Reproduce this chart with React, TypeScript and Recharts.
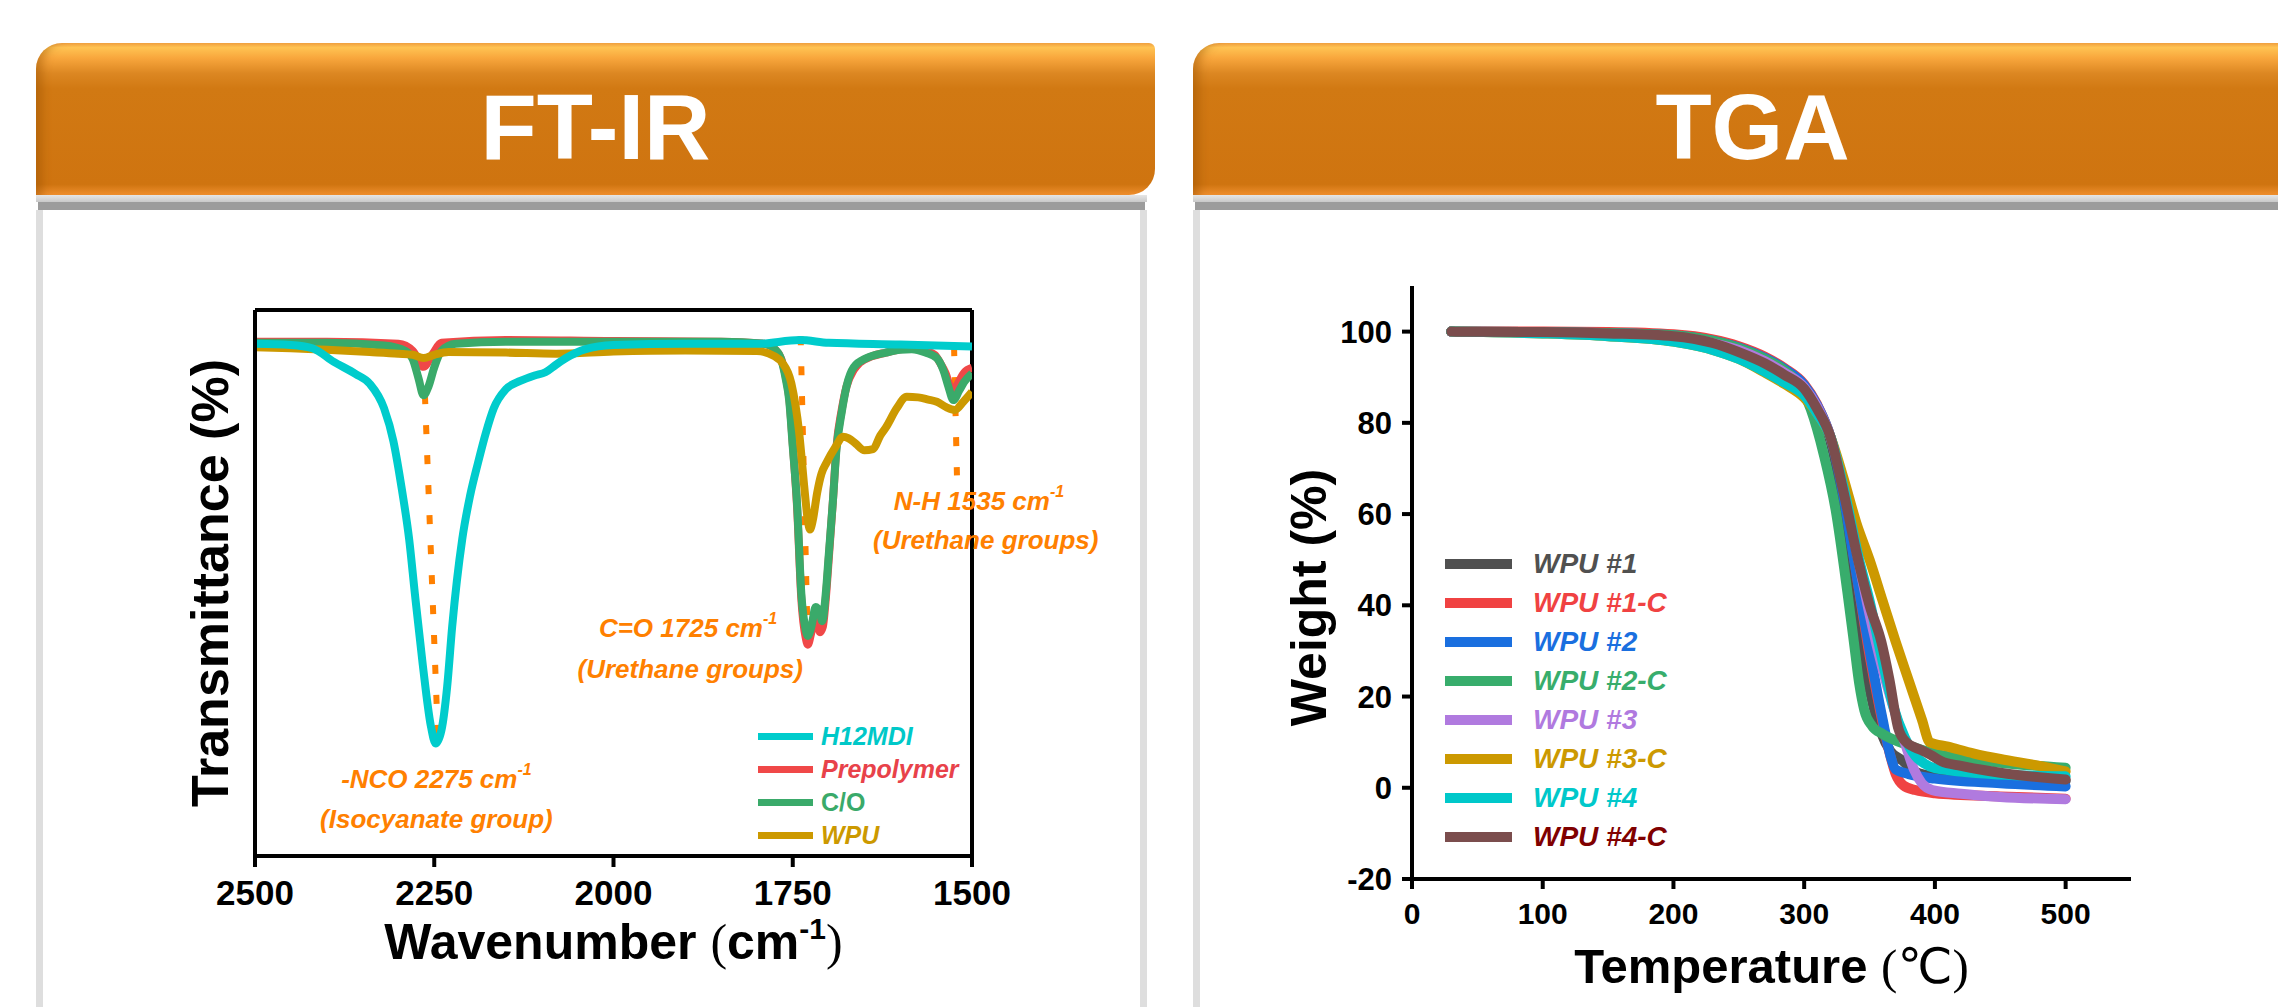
import React from 'react';
import { LineChart, Line, XAxis, YAxis, ReferenceLine, ReferenceDot, Legend } from 'recharts';

const SANS = '"Liberation Sans", Arial, sans-serif';
const SERIF = '"Liberation Serif", "Times New Roman", serif';

// ---------- FT-IR : [wavenumber (cm-1), transmittance (% of frame)] ----------
const irTicks = [2500, 2250, 2000, 1750, 1500];
const irNames = ['H12MDI', 'Prepolymer', 'C/O', 'WPU'];

const irH12mdi = [
  [2500, 93.8], [2450, 93.6], [2420, 93], [2390, 90.5], [2360, 88.3], [2340, 86.5],
  [2320, 82], [2307, 76], [2295, 67], [2285, 58], [2277, 48], [2266, 35], [2255, 24],
  [2248, 20.6], [2240, 23], [2232, 31], [2225, 42], [2211, 58], [2200, 66], [2189, 72],
  [2178, 77.5], [2167, 82], [2150, 85.5], [2130, 87], [2110, 88], [2095, 88.6],
  [2080, 90], [2065, 91.3], [2040, 92.8], [2000, 93.6], [1900, 93.8], [1800, 93.8],
  [1740, 94.5], [1700, 94], [1600, 93.7], [1500, 93.3],
];

const irPrepolymer = [
  [2500, 94.2], [2400, 94.2], [2300, 93.8], [2280, 92.5], [2265, 89.6], [2252, 92],
  [2240, 94], [2150, 94.5], [2000, 94.3], [1850, 94.2], [1790, 93.8], [1775, 92.8],
  [1766, 91], [1760, 88], [1755, 84], [1750, 75.5], [1744, 64], [1738, 47], [1732, 40],
  [1729, 38.7], [1724, 41], [1718, 44.5], [1712, 41], [1708, 42], [1704, 47], [1700, 54],
  [1694, 65], [1689, 75], [1682, 81.5], [1675, 86], [1665, 89], [1657, 90.3], [1640, 91.5],
  [1620, 92.2], [1600, 92.8], [1584, 93], [1565, 92.5], [1552, 91.8], [1544, 90.2],
  [1537, 88.5], [1527, 85], [1520, 86.5], [1511, 88.5], [1500, 89.4],
];

const irCO = [
  [2500, 94], [2400, 94], [2320, 93.5], [2290, 92.5], [2280, 91], [2272, 87.5],
  [2265, 84.4], [2258, 86], [2250, 89.5], [2240, 92.5], [2220, 93.8], [2150, 94.2],
  [2000, 94.2], [1850, 94.2], [1790, 93.8], [1775, 92.8], [1766, 90.9], [1760, 87.5],
  [1755, 83.5], [1750, 75], [1744, 64.5], [1738, 48], [1732, 41.5], [1729, 40.3],
  [1724, 42], [1718, 45.6], [1712, 44.5], [1709, 43], [1704, 48], [1700, 54.8],
  [1694, 65], [1689, 74.5], [1682, 81], [1675, 86], [1665, 89.5], [1647, 91.2],
  [1620, 92.2], [1600, 92.7], [1584, 92.8], [1565, 92.2], [1549, 91.2], [1540, 89],
  [1533, 86], [1526, 83.5], [1518, 85.2], [1511, 86.8], [1500, 88.4],
];

const irWpu = [
  [2500, 93.2], [2450, 93], [2400, 92.7], [2340, 92.3], [2300, 92], [2280, 91.8],
  [2265, 91.2], [2250, 91.8], [2230, 92.3], [2150, 92.2], [2080, 92], [2000, 92.4],
  [1900, 92.6], [1800, 92.5], [1775, 91.5], [1765, 90.4], [1752, 86.6], [1741, 77.5],
  [1734, 67.7], [1729, 61.5], [1726, 59.8], [1722, 61.5], [1716, 66.5], [1710, 70],
  [1703, 72], [1690, 75], [1680, 76.8], [1672, 76.5], [1662, 75.5], [1650, 74.3],
  [1638, 74.5], [1628, 77], [1620, 78.5], [1605, 82], [1591, 84.1], [1575, 84],
  [1561, 83.6], [1549, 83.2], [1536, 82.2], [1524, 81.7], [1512, 83.2], [1500, 85],
];

// dashed guide lines: [top wavenumber, top T, bottom wavenumber, bottom T]
const irGuides = [
  [2263, 84.4, 2245, 22],
  [1739, 95.2, 1729, 38.3],
  [1525, 93.2, 1521, 69.7],
];

// ---------- TGA : [temperature (C), weight (%)] ----------
const tgaXTicks = [0, 100, 200, 300, 400, 500];
const tgaYTicks = [-20, 0, 20, 40, 60, 80, 100];
const tgaNames = ['WPU #1', 'WPU #1-C', 'WPU #2', 'WPU #2-C', 'WPU #3', 'WPU #3-C', 'WPU #4', 'WPU #4-C'];

const tgaWpu1 = [
  [30, 100], [100, 99.9], [150, 99.6], [200, 99], [230, 97.8], [250, 96.3], [270, 94],
  [285, 91.5], [300, 88], [310, 83.5], [320, 76], [330, 62], [340, 42], [346, 28],
  [352, 19], [359, 12], [366, 8], [375, 6], [385, 3.5], [400, 2.5], [450, 1.9], [500, 1.5],
];
const tgaWpu1C = [
  [30, 100], [100, 100], [150, 99.9], [200, 99.4], [230, 98.3], [250, 96.8], [270, 94.5],
  [285, 92], [300, 88.5], [310, 84], [320, 77], [330, 65], [340, 47], [350, 29], [358, 17],
  [365, 8], [370, 3], [376, 0.5], [385, -0.5], [400, -1.2], [450, -1.9], [500, -2.4],
];
const tgaWpu2 = [
  [30, 100], [100, 99.9], [150, 99.7], [200, 99.2], [230, 98], [250, 96.5], [270, 94.2],
  [285, 91.8], [300, 88.3], [310, 83.8], [320, 77], [330, 64], [337, 52], [344, 40],
  [352, 27], [360, 15], [366, 7], [370, 4], [380, 3], [400, 2], [450, 1], [500, 0.3],
];
const tgaWpu2C = [
  [30, 100], [100, 99.9], [150, 99.7], [200, 99.2], [230, 98], [250, 96.4], [270, 94],
  [285, 91.5], [297, 88], [305, 83], [315, 73], [324, 61], [333, 43], [338, 32], [342, 23],
  [346, 17], [352, 13.5], [360, 11.8], [380, 9.3], [400, 7.5], [450, 5.5], [500, 4.4],
];
const tgaWpu3 = [
  [30, 100], [100, 99.8], [150, 99.5], [200, 98.8], [230, 97.5], [250, 96], [270, 93.5],
  [285, 91], [300, 87.8], [310, 83.5], [320, 77], [330, 66], [340, 52], [350, 38], [360, 26],
  [370, 16], [378, 9], [384, 4], [390, 1], [398, -0.5], [420, -1.3], [450, -2], [500, -2.5],
];
const tgaWpu3C = [
  [30, 100], [100, 99.6], [150, 99], [200, 97.8], [230, 96], [250, 94], [270, 91],
  [285, 88.5], [300, 85.5], [310, 82], [320, 77], [330, 68], [340, 58], [350, 50], [360, 41],
  [370, 32], [380, 23.5], [390, 15], [396, 10], [410, 9], [430, 7.5], [450, 6.3], [480, 4.8],
  [500, 3.6],
];
const tgaWpu4 = [
  [30, 100], [100, 99.6], [150, 99], [200, 97.8], [230, 96], [250, 94], [270, 91.2],
  [285, 88.8], [300, 86], [310, 82], [320, 77], [330, 66], [342, 50], [350, 41], [359, 29],
  [368, 18], [377, 11], [385, 7], [392, 5.3], [400, 4.3], [450, 2.9], [500, 2.5],
];
const tgaWpu4C = [
  [30, 100], [100, 99.9], [150, 99.6], [200, 99], [230, 97.5], [250, 95.5], [270, 93],
  [285, 90.5], [300, 87.5], [310, 83], [320, 77], [330, 65], [342, 49], [350, 40], [359, 32],
  [365, 24], [372, 13], [378, 10], [390, 8.2], [398, 7], [405, 5.8], [420, 4.8], [450, 3.3],
  [500, 1.8],
];

// ---------- styles ----------
const irColors = ['#00CCCC', '#F04848', '#3AAA6A', '#CC9900'];
const irTextColors = ['#00C8C8', '#E8424A', '#3AAA6A', '#CC9900'];
const irItalic = [true, true, false, true];
const irSeries = [irH12mdi, irPrepolymer, irCO, irWpu];
const irDrawOrder = [1, 2, 3, 0];

const tgaColors = ['#505050', '#F04242', '#1A6FDF', '#38AD6C', '#B07ADF', '#CC9900', '#00C8CA', '#7B4D4D'];
const tgaTextColors = ['#505050', '#F04242', '#1A6FDF', '#38AD6C', '#B07ADF', '#CC9900', '#00C8CA', '#800000'];
const tgaSeries = [tgaWpu1, tgaWpu1C, tgaWpu2, tgaWpu2C, tgaWpu3, tgaWpu3C, tgaWpu4, tgaWpu4C];

const ORANGE = '#FF8000';

const toPoints = (pairs: number[][]) => pairs.map(([x, y]) => ({ x, y }));

// annotation text: wavenumber, T, text, superscript, anchor
const irNotes: [number, number, string, string, 'middle' | 'start'][] = [
  [2247, 14.1, '-NCO 2275 cm', '-1', 'middle'],
  [2247, 6.8, '(Isocyanate group)', '', 'middle'],
  [1896, 41.8, 'C=O 1725 cm', '-1', 'middle'],
  [1893, 34.3, '(Urethane groups)', '', 'middle'],
  [1609, 65.1, 'N-H 1535 cm', '-1', 'start'],
  [1638, 57.9, '(Urethane groups)', '', 'start'],
];

const noteLabel = (text: string, sup: string, anchor: 'middle' | 'start') => (props: any) => {
  const vb = props.viewBox || {};
  const x = (vb.x || 0) + (vb.width || 0) / 2;
  const y = (vb.y || 0) + (vb.height || 0) / 2;
  return (
    <text x={x} y={y} textAnchor={anchor} dominantBaseline="central" fill={ORANGE}
      fontFamily={SANS} fontWeight={700} fontStyle="italic" fontSize={26}>
      {text}
      {sup ? <tspan dy={-10} fontSize={16}>{sup}</tspan> : null}
    </text>
  );
};

const irXLabel = (props: any) => {
  const vb = props.viewBox;
  const x = vb.x + vb.width / 2;
  const y = vb.y + 103;
  return (
    <text x={x} y={y} textAnchor="middle" fontFamily={SANS} fontWeight={700} fontSize={50} fill="#000">
      <tspan>Wavenumber </tspan>
      <tspan fontFamily={SERIF} fontWeight={400}>(</tspan>
      <tspan>cm</tspan>
      <tspan fontSize={30} dy={-20}>-1</tspan>
      <tspan dy={20} fontFamily={SERIF} fontWeight={400}>)</tspan>
    </text>
  );
};

const irYLabel = (props: any) => {
  const vb = props.viewBox;
  const cx = vb.x + 60;
  const cy = vb.y + vb.height / 2;
  return (
    <text x={cx} y={cy} transform={`rotate(-90 ${cx} ${cy})`} textAnchor="middle" dominantBaseline="central"
      fontFamily={SANS} fontWeight={700} fontSize={52} fill="#000">
      Transmittance (%)
    </text>
  );
};

const tgaXLabel = (props: any) => {
  const vb = props.viewBox;
  const x = vb.x + vb.width / 2;
  const y = vb.y + 104;
  return (
    <text x={x} y={y} textAnchor="middle" fontFamily={SANS} fontWeight={700} fontSize={49} fill="#000">
      <tspan>Temperature </tspan>
      <tspan fontFamily={SERIF} fontWeight={400}>(</tspan>
      <tspan fontFamily='"DejaVu Sans", sans-serif' fontWeight={400}>℃</tspan>
      <tspan fontFamily={SERIF} fontWeight={400}>)</tspan>
    </text>
  );
};

const tgaYLabel = (props: any) => {
  const vb = props.viewBox;
  const cx = vb.x + 119;
  const cy = vb.y + vb.height / 2 + 15;
  return (
    <text x={cx} y={cy} transform={`rotate(-90 ${cx} ${cy})`} textAnchor="middle" dominantBaseline="central"
      fontFamily={SANS} fontWeight={700} fontSize={50} fill="#000">
      Weight (%)
    </text>
  );
};

const IrLegend = () => (
  <div style={{ fontFamily: SANS, fontWeight: 700, fontSize: 25 }}>
    {irNames.map((n, i) => (
      <div key={n} style={{ display: 'flex', alignItems: 'center', height: 33 }}>
        <div style={{ width: 55, height: 7, background: irColors[i] }} />
        <span style={{ marginLeft: 8, color: irTextColors[i], fontStyle: irItalic[i] ? 'italic' : 'normal', lineHeight: 1 }}>{n}</span>
      </div>
    ))}
  </div>
);

const TgaLegend = () => (
  <div style={{ fontFamily: SANS, fontWeight: 700, fontSize: 28, fontStyle: 'italic' }}>
    {tgaNames.map((n, i) => (
      <div key={n} style={{ display: 'flex', alignItems: 'center', height: 39.1 }}>
        <div style={{ width: 67, height: 10, background: tgaColors[i] }} />
        <span style={{ marginLeft: 21, color: tgaTextColors[i], lineHeight: 1 }}>{n}</span>
      </div>
    ))}
  </div>
);

const headerBg =
  'linear-gradient(to bottom, #F0A040 0%, #FFC352 3%, #F8A63C 10%, #DC8722 20%, #D17913 30%, #CF7410 93%, #EF8F2E 100%)';

const Header = ({ left, width, title, radius }: { left: number; width: number; title: string; radius: string }) => (
  <div
    style={{
      position: 'absolute', left, top: 43, width, height: 152, borderRadius: radius, background: headerBg,
      boxShadow: 'inset 14px 0 10px -8px rgba(150,80,0,0.45)',
      display: 'flex', justifyContent: 'center', alignItems: 'center',
      color: '#fff', fontFamily: SANS, fontWeight: 700, fontSize: 92, lineHeight: 1,
    }}
  >
    <span style={{ position: 'relative', top: 8 }}>{title}</span>
  </div>
);

const Panel = ({ left, width, right }: { left: number; width: number; right: boolean }) => (
  <>
    <div style={{ position: 'absolute', left, top: 195, width, height: 7, background: 'linear-gradient(#E6E6E6, #C9C9C9)' }} />
    <div style={{ position: 'absolute', left: left + 2, top: 202, width: width - 4, height: 8, background: '#9C9C9C' }} />
    <div
      style={{
        position: 'absolute', left, top: 210, width, height: 800, boxSizing: 'border-box',
        borderLeft: '7px solid #DEDEDE', borderRight: right ? '7px solid #DEDEDE' : 'none', background: '#fff',
      }}
    />
  </>
);

const FtirChart = () => (
  <div style={{ position: 'absolute', left: 150, top: 280 }}>
    <LineChart width={1000} height={720} margin={{ top: 30, right: 178, bottom: 54, left: 0 }}>
      <XAxis
        type="number" dataKey="x" domain={[1500, 2500]} reversed ticks={irTicks} allowDataOverflow height={90}
        axisLine={{ stroke: '#000', strokeWidth: 4 }} tickLine={{ stroke: '#000', strokeWidth: 4 }}
        tickSize={11} tickMargin={13}
        tick={{ fill: '#000', fontSize: 35, fontWeight: 700, fontFamily: SANS }}
        label={irXLabel}
      />
      <YAxis
        type="number" domain={[0, 100]} width={105} allowDataOverflow tick={false} tickLine={false}
        axisLine={{ stroke: '#000', strokeWidth: 4 }} label={irYLabel}
      />
      <ReferenceLine y={100} stroke="#000" strokeWidth={4} />
      <ReferenceLine x={1500} stroke="#000" strokeWidth={4} />
      {irGuides.map((g, i) => (
        <ReferenceLine
          key={`guide-${i}`}
          segment={[{ x: g[0], y: g[1] }, { x: g[2], y: g[3] }]}
          stroke={ORANGE} strokeWidth={6} strokeDasharray="9 21"
        />
      ))}
      {irDrawOrder.map((i) => (
        <Line
          key={irNames[i]} name={irNames[i]} data={toPoints(irSeries[i])} dataKey="y" type="monotone"
          stroke={irColors[i]} strokeWidth={8} dot={false} activeDot={false} isAnimationActive={false}
        />
      ))}
      {irNotes.map((n, i) => (
        <ReferenceDot
          key={`note-${i}`} x={n[0]} y={n[1]} r={0} fill="none" stroke="none" ifOverflow="visible"
          label={noteLabel(n[2], n[3], n[4])}
        />
      ))}
      <Legend
        layout="vertical" align="center" verticalAlign="middle" content={() => <IrLegend />}
        wrapperStyle={{ position: 'absolute', left: 608, top: 440, width: 260 }}
      />
    </LineChart>
  </div>
);

const TgaChart = () => (
  <div style={{ position: 'absolute', left: 1190, top: 250 }}>
    <LineChart width={1000} height={760} margin={{ top: 36, right: 59, bottom: 31, left: 0 }}>
      <XAxis
        type="number" dataKey="x" domain={[0, 550]} ticks={tgaXTicks} allowDataOverflow height={100}
        axisLine={{ stroke: '#000', strokeWidth: 4 }} tickLine={{ stroke: '#000', strokeWidth: 4 }}
        tickSize={10} tickMargin={14}
        tick={{ fill: '#000', fontSize: 30, fontWeight: 700, fontFamily: SANS }}
        label={tgaXLabel}
      />
      <YAxis
        type="number" domain={[-20, 110]} ticks={tgaYTicks} width={222} allowDataOverflow
        axisLine={{ stroke: '#000', strokeWidth: 4 }} tickLine={{ stroke: '#000', strokeWidth: 4 }}
        tickSize={10} tickMargin={10}
        tick={{ fill: '#000', fontSize: 31, fontWeight: 700, fontFamily: SANS }}
        label={tgaYLabel}
      />
      {tgaSeries.map((s, i) => (
        <Line
          key={tgaNames[i]} name={tgaNames[i]} data={toPoints(s)} dataKey="y" type="monotone"
          stroke={tgaColors[i]} strokeWidth={10} strokeLinecap="round" dot={false} activeDot={false}
          isAnimationActive={false}
        />
      ))}
      <Legend
        layout="vertical" align="center" verticalAlign="middle" content={() => <TgaLegend />}
        wrapperStyle={{ position: 'absolute', left: 255, top: 294, width: 300 }}
      />
    </LineChart>
  </div>
);

export default function App() {
  return (
    <div style={{ position: 'absolute', left: 0, top: 0, width: 2278, height: 1007, overflow: 'hidden', background: '#fff' }}>
      <Panel left={36} width={1111} right />
      <Panel left={1193} width={1200} right={false} />
      <Header left={36} width={1119} title="FT-IR" radius="26px 6px 26px 0" />
      <Header left={1193} width={1119} title="TGA" radius="26px 6px 26px 0" />
      <FtirChart />
      <TgaChart />
    </div>
  );
}
